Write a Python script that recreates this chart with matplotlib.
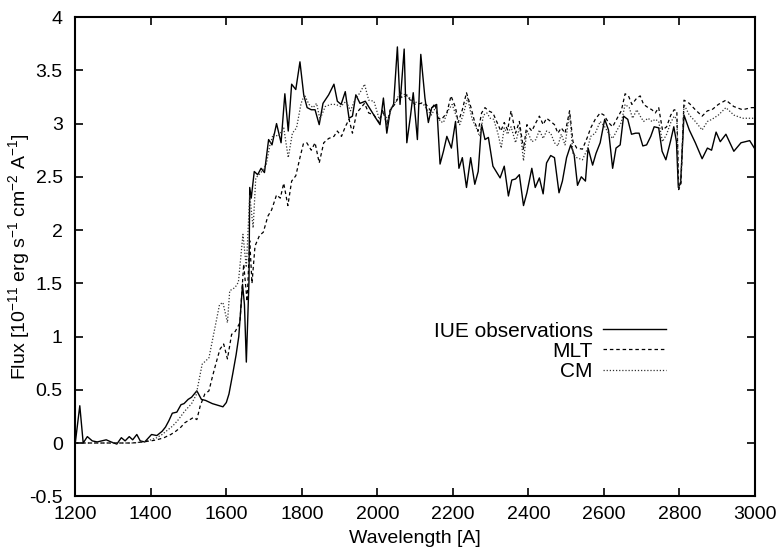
import numpy as np
import matplotlib
matplotlib.use("Agg")
import matplotlib.pyplot as plt

plt.rcParams['font.family'] = ['Liberation Sans', 'DejaVu Sans']
plt.rcParams['mathtext.fontset'] = 'custom'
plt.rcParams['mathtext.rm'] = 'Liberation Sans'

# IUE observations (solid)
wl_iue = [1200, 1212, 1221, 1232, 1245, 1258, 1270, 1282, 1295, 1310, 1322, 1332,
          1343, 1352, 1363, 1372, 1384, 1402, 1416, 1430, 1439, 1448, 1457, 1469,
          1480, 1488, 1499, 1508, 1522, 1534, 1545, 1563, 1582, 1591, 1600, 1607,
          1617, 1626, 1633, 1643, 1648, 1653, 1660, 1662, 1666, 1674, 1683, 1692,
          1701, 1712, 1721, 1733, 1745, 1755, 1764, 1773, 1784, 1795, 1805, 1814,
          1825, 1835, 1846, 1856, 1871, 1885, 1894, 1904, 1915, 1925, 1934, 1943,
          1954, 1968, 1982, 1996, 2007, 2016, 2025, 2034, 2043, 2053, 2060, 2071,
          2078, 2088, 2095, 2106, 2115, 2126, 2135, 2144, 2157, 2166, 2175, 2184,
          2196, 2207, 2216, 2225, 2236, 2247, 2258, 2267, 2276, 2285, 2294, 2306,
          2325, 2336, 2347, 2356, 2366, 2376, 2387, 2396, 2409, 2418, 2429, 2439,
          2448, 2459, 2469, 2481, 2490, 2501, 2512, 2521, 2530, 2540, 2551, 2558,
          2570, 2579, 2590, 2602, 2612, 2623, 2632, 2643, 2652, 2663, 2673, 2684,
          2693, 2703, 2713, 2724, 2733, 2745, 2754, 2764, 2776, 2785, 2792, 2797,
          2803, 2812, 2826, 2842, 2860, 2874, 2885, 2897, 2908, 2923, 2944, 2963,
          2986, 3000]
flux_iue = [0.0, 0.35, 0.0, 0.06, 0.02, 0.01, 0.02, 0.03, 0.01, -0.01, 0.05, 0.02,
            0.06, 0.03, 0.08, 0.02, 0.01, 0.08, 0.07, 0.11, 0.15, 0.21, 0.28, 0.29,
            0.36, 0.37, 0.41, 0.43, 0.49, 0.41, 0.40, 0.37, 0.35, 0.34, 0.38, 0.46,
            0.65, 0.83, 1.00, 1.49, 1.30, 0.76, 1.52, 2.40, 2.30, 2.55, 2.52, 2.58,
            2.54, 2.85, 2.80, 3.00, 2.82, 3.28, 2.93, 3.37, 3.32, 3.58, 3.27, 3.15,
            3.13, 3.13, 2.99, 3.19, 3.27, 3.37, 3.21, 3.18, 3.30, 3.05, 3.07, 3.27,
            3.19, 3.21, 3.13, 3.05, 2.99, 3.24, 2.91, 3.12, 3.18, 3.72, 3.18, 3.70,
            2.82, 3.08, 3.29, 2.85, 3.65, 3.24, 3.01, 3.15, 3.18, 2.62, 2.74, 2.88,
            2.77, 3.02, 2.58, 2.68, 2.40, 2.68, 2.43, 2.55, 2.99, 2.85, 2.87, 2.60,
            2.49, 2.60, 2.32, 2.47, 2.48, 2.52, 2.23, 2.35, 2.58, 2.40, 2.49, 2.34,
            2.63, 2.70, 2.68, 2.35, 2.46, 2.68, 2.80, 2.71, 2.42, 2.50, 2.46, 2.77,
            2.61, 2.72, 2.82, 3.04, 2.94, 2.58, 2.77, 2.80, 3.07, 3.04, 2.90, 2.91,
            2.91, 2.79, 2.80, 2.88, 2.97, 2.96, 2.74, 2.66, 2.83, 2.97, 2.83, 2.40,
            2.44, 3.08, 2.94, 2.82, 2.67, 2.77, 2.75, 2.92, 2.83, 2.90, 2.74, 2.82,
            2.84, 2.76]

# MLT model (dashed)
wl_mlt = [1200, 1250, 1300, 1350, 1379, 1400, 1416, 1435, 1453, 1466, 1480, 1490,
          1499, 1513, 1522, 1531, 1543, 1554, 1563, 1572, 1583, 1593, 1603, 1614,
          1624, 1636, 1646, 1655, 1662, 1668, 1676, 1688, 1698, 1710, 1720, 1733,
          1743, 1752, 1763, 1773, 1784, 1795, 1804, 1813, 1825, 1835, 1846, 1858,
          1871, 1885, 1894, 1905, 1915, 1925, 1934, 1945, 1957, 1966, 1977, 1991,
          2005, 2014, 2025, 2034, 2046, 2058, 2069, 2078, 2089, 2101, 2115, 2129,
          2141, 2152, 2161, 2170, 2184, 2195, 2207, 2214, 2225, 2236, 2248, 2258,
          2267, 2276, 2285, 2294, 2306, 2317, 2327, 2336, 2345, 2354, 2366, 2376,
          2387, 2396, 2409, 2420, 2429, 2439, 2448, 2459, 2469, 2478, 2487, 2497,
          2509, 2518, 2528, 2543, 2556, 2565, 2577, 2590, 2600, 2612, 2623, 2635,
          2646, 2656, 2665, 2674, 2687, 2696, 2705, 2717, 2727, 2736, 2745, 2755,
          2766, 2777, 2786, 2793, 2798, 2804, 2812, 2826, 2842, 2860, 2874, 2886,
          2903, 2923, 2944, 2967, 2991, 3000]
flux_mlt = [0.0, 0.0, 0.0, 0.0, 0.01, 0.02, 0.03, 0.05, 0.08, 0.11, 0.15, 0.19,
            0.21, 0.24, 0.22, 0.35, 0.46, 0.49, 0.62, 0.74, 0.88, 0.93, 0.79, 1.02,
            1.05, 1.13, 1.68, 1.33, 1.90, 1.50, 1.85, 1.95, 1.98, 2.13, 2.19, 2.33,
            2.30, 2.44, 2.23, 2.46, 2.51, 2.68, 2.81, 2.82, 2.75, 2.82, 2.63, 2.82,
            2.86, 2.88, 2.93, 2.88, 2.97, 3.04, 2.91, 3.10, 3.15, 3.19, 3.10, 3.08,
            3.01, 3.13, 2.99, 3.13, 3.18, 3.26, 3.24, 3.27, 3.21, 3.18, 3.19, 3.18,
            3.12, 3.19, 3.05, 3.04, 3.10, 3.26, 3.15, 3.01, 3.13, 3.29, 3.15, 3.01,
            2.93, 3.10, 3.15, 3.12, 3.10, 3.01, 2.93, 3.01, 2.94, 3.12, 2.91, 3.02,
            2.76, 2.99, 2.93, 3.01, 3.07, 2.99, 3.05, 3.02, 2.99, 2.91, 2.96, 2.91,
            3.12, 2.83, 2.77, 2.76, 2.87, 2.96, 3.04, 3.10, 3.08, 3.01, 2.97, 3.05,
            3.12, 3.28, 3.26, 3.18, 3.24, 3.26, 3.18, 3.15, 3.13, 3.10, 3.15, 2.94,
            2.97, 3.08, 3.13, 3.12, 2.38, 2.44, 3.22, 3.19, 3.13, 3.07, 3.12, 3.13,
            3.18, 3.22, 3.16, 3.13, 3.15, 3.15]

# CM model (dotted)
wl_cm = [1200, 1250, 1300, 1350, 1380, 1400, 1416, 1430, 1444, 1458, 1471, 1490,
         1508, 1520, 1536, 1554, 1568, 1582, 1591, 1603, 1609, 1623, 1632, 1644,
         1653, 1662, 1671, 1678, 1692, 1706, 1715, 1724, 1738, 1752, 1764, 1775,
         1786, 1798, 1807, 1819, 1830, 1839, 1848, 1862, 1876, 1890, 1903, 1917,
         1929, 1940, 1954, 1966, 1977, 1991, 2005, 2016, 2028, 2037, 2049, 2060,
         2074, 2086, 2097, 2108, 2120, 2132, 2143, 2154, 2166, 2175, 2187, 2198,
         2209, 2218, 2227, 2239, 2251, 2262, 2271, 2281, 2290, 2299, 2308, 2319,
         2328, 2336, 2345, 2354, 2366, 2377, 2387, 2396, 2409, 2420, 2429, 2439,
         2448, 2459, 2469, 2478, 2487, 2497, 2509, 2518, 2528, 2543, 2556, 2565,
         2577, 2590, 2602, 2612, 2623, 2635, 2646, 2656, 2667, 2676, 2687, 2696,
         2705, 2717, 2727, 2736, 2745, 2755, 2766, 2777, 2786, 2793, 2798, 2804,
         2812, 2826, 2842, 2860, 2874, 2886, 2903, 2923, 2944, 2967, 2991, 3000]
flux_cm = [0.0, 0.0, 0.0, 0.0, 0.01, 0.03, 0.05, 0.08, 0.12, 0.16, 0.21, 0.30,
           0.37, 0.45, 0.74, 0.80, 1.05, 1.30, 1.32, 1.13, 1.43, 1.46, 1.51, 1.96,
           1.65, 2.33, 2.02, 2.49, 2.54, 2.62, 2.79, 2.90, 2.88, 2.96, 2.68, 2.91,
           2.96, 3.19, 3.27, 3.18, 3.15, 3.19, 3.04, 3.16, 3.18, 3.18, 3.16, 3.21,
           3.12, 3.22, 3.29, 3.37, 3.22, 3.21, 3.04, 3.12, 3.02, 3.15, 3.21, 3.29,
           3.27, 3.24, 3.19, 3.21, 3.19, 3.13, 3.08, 3.15, 3.02, 3.01, 3.12, 3.18,
           3.07, 2.99, 3.08, 3.24, 3.04, 2.96, 2.88, 3.08, 3.10, 3.05, 3.04, 2.91,
           2.77, 2.96, 2.90, 2.97, 2.82, 2.97, 2.65, 2.94, 2.83, 2.85, 2.94, 2.86,
           2.93, 2.91, 2.82, 2.79, 2.90, 2.80, 3.10, 2.72, 2.68, 2.66, 2.76, 2.88,
           2.91, 3.02, 2.97, 2.91, 2.86, 2.94, 3.01, 3.18, 3.15, 3.05, 3.13, 3.07,
           3.02, 3.05, 3.02, 3.04, 3.02, 2.83, 2.90, 3.01, 3.07, 3.04, 2.41, 2.47,
           3.18, 3.08, 3.02, 2.94, 3.02, 3.04, 3.08, 3.15, 3.08, 3.05, 3.05, 3.05]

x_ticks = [1200, 1400, 1600, 1800, 2000, 2200, 2400, 2600, 2800, 3000]
y_ticks = [-0.5, 0, 0.5, 1, 1.5, 2, 2.5, 3, 3.5, 4]
y_labels = ['-0.5', '0', '0.5', '1', '1.5', '2', '2.5', '3', '3.5', '4']

fs = 14

fig = plt.figure(figsize=(7.84, 5.52), dpi=100)
ax = fig.add_axes([0.096, 0.101, 0.867, 0.868])

ax.plot(wl_iue, flux_iue, '-', color='black', lw=1.0, label='IUE observations')
ax.plot(wl_mlt, flux_mlt, color='black', lw=0.9, dashes=(2.8, 2.3), label='MLT')
ax.plot(wl_cm, flux_cm, color='#333333', lw=0.9, dashes=(1, 1.5), label='CM')

ax.set_xlim(1200, 3000)
ax.set_ylim(-0.5, 4)
ax.set_xticks(x_ticks)
ax.set_yticks(y_ticks)
ax.set_yticklabels(y_labels)

for s in ax.spines.values():
    s.set_linewidth(1.5)
ax.tick_params(direction='in', length=6, width=1.2, top=True, right=True,
               labelsize=fs)
ax.tick_params(axis='x', pad=7)
ax.tick_params(axis='y', pad=9)

ax.set_xlabel('Wavelength [A]', fontsize=fs, labelpad=5)
ax.set_ylabel(r'Flux [10$^{\mathregular{-11}}$ erg s$^{\mathregular{-1}}$ '
              r'cm$^{\mathregular{-2}}$ A$^{\mathregular{-1}}$]', fontsize=14)
ax.yaxis.set_label_coords(-0.062, 0.5)

ax.legend(loc='upper right', bbox_to_anchor=(0.884, 0.386), frameon=False,
          markerfirst=False, fontsize=15, handlelength=3.0, handletextpad=0.5,
          labelspacing=0.05, borderpad=0)

fig.savefig('out.png', dpi=100)
